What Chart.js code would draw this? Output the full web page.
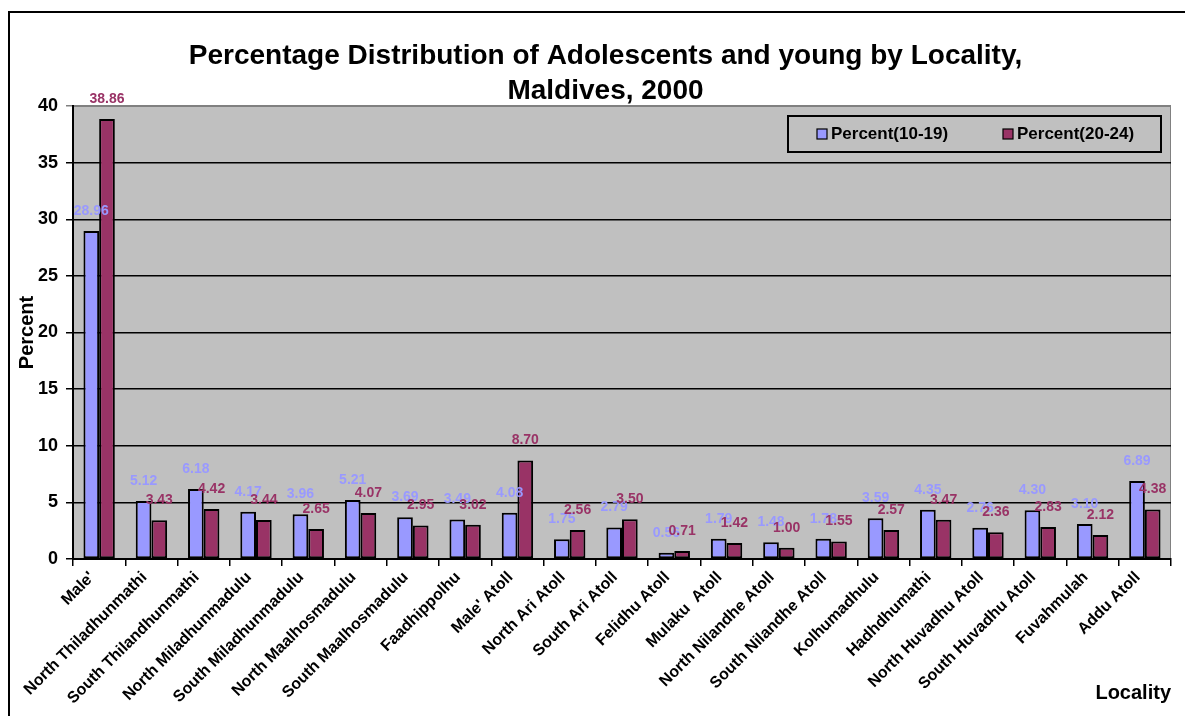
<!DOCTYPE html>
<html>
<head>
<meta charset="utf-8">
<script src="https://cdn.jsdelivr.net/npm/chart.js@4.4.0/dist/chart.umd.min.js"></script>
<style>
  html, body { margin: 0; padding: 0; background: #ffffff; }
  canvas { display: block; }
</style>
</head>
<body>
<canvas id="chart" width="1185" height="716"></canvas>
<script>
// Census 2000 locality breakdown
const titleLines = ['Percentage Distribution of Adolescents and young by Locality,', 'Maldives, 2000'];
const localities = [
  "Male'", 'North Thiladhunmathi', 'South Thilandhunmathi', 'North Miladhunmadulu',
  'South Miladhunmadulu', 'North Maalhosmadulu', 'South Maalhosmadulu', 'Faadhippolhu',
  "Male' Atoll", 'North Ari Atoll', 'South Ari Atoll', 'Felidhu Atoll', 'Mulaku  Atoll',
  'North Nilandhe Atoll', 'South Nilandhe Atoll', 'Kolhumadhulu', 'Hadhdhumathi',
  'North Huvadhu Atoll', 'South Huvadhu Atoll', 'Fuvahmulah', 'Addu Atoll'
];
const seriesNames = ['Percent(10-19)', 'Percent(20-24)'];
const percent10to19 = [28.96, 5.12, 6.18, 4.17, 3.96, 5.21, 3.69, 3.49, 4.08, 1.75, 2.79, 0.56, 1.79, 1.48, 1.78, 3.59, 4.35, 2.76, 4.30, 3.10, 6.89];
const percent20to24 = [38.86, 3.43, 4.42, 3.44, 2.65, 4.07, 2.95, 3.02, 8.70, 2.56, 3.50, 0.71, 1.42, 1.00, 1.55, 2.57, 3.47, 2.36, 2.83, 2.12, 4.38];
const yTickMin = 0;
const yTickMax = 40;
const yTickStep = 5;

const FONT = '"Liberation Sans", Arial, Helvetica, sans-serif';
const fillColors = ['#9999FF', '#993366'];
const plotGray = '#C0C0C0';

// Gray plot area, outer frame and the chart heading
const backdrop = {
  id: 'backdrop',
  beforeDraw(chart) {
    const { ctx, chartArea: a } = chart;
    ctx.save();
    ctx.fillStyle = '#ffffff';
    ctx.fillRect(0, 0, chart.width, chart.height);
    ctx.fillStyle = plotGray;
    ctx.fillRect(a.left, a.top, a.right - a.left, a.bottom - a.top);
    ctx.strokeStyle = '#808080';
    ctx.lineWidth = 1;
    ctx.strokeRect(a.left, a.top + 0.5, a.right - a.left - 0.5, a.bottom - a.top);
    // frame
    ctx.strokeStyle = '#000000';
    ctx.lineWidth = 2;
    ctx.beginPath();
    ctx.moveTo(9, chart.height);
    ctx.lineTo(9, 12);
    ctx.lineTo(chart.width, 12);
    ctx.stroke();
    // heading
    ctx.fillStyle = '#000000';
    ctx.font = 'bold 28px ' + FONT;
    ctx.textAlign = 'center';
    ctx.textBaseline = 'middle';
    const cx = chart.width / 2 + 13;
    titleLines.forEach((line, i) => ctx.fillText(line, cx, 56 + i * 35));
    ctx.restore();
  }
};

// Value labels above each bar
const valueLabels = {
  id: 'valueLabels',
  afterDatasetsDraw(chart) {
    const { ctx } = chart;
    ctx.save();
    ctx.font = 'bold 14px ' + FONT;
    ctx.textAlign = 'center';
    ctx.textBaseline = 'middle';
    chart.data.datasets.forEach((ds, i) => {
      const meta = chart.getDatasetMeta(i);
      ctx.fillStyle = fillColors[i];
      meta.data.forEach((bar, j) => {
        ctx.fillText(ds.data[j].toFixed(2), bar.x, bar.y - 20);
      });
    });
    ctx.restore();
  }
};

// Boxed legend inside the top-right of the plot
const boxedLegend = {
  id: 'boxedLegend',
  afterDraw(chart) {
    const { ctx, chartArea: a } = chart;
    const w = 373, h = 36;
    const x0 = a.right - 10 - w, y0 = a.top + 10;
    ctx.save();
    ctx.fillStyle = plotGray;
    ctx.fillRect(x0, y0, w, h);
    ctx.strokeStyle = '#000000';
    ctx.lineWidth = 2;
    ctx.strokeRect(x0, y0, w, h);
    ctx.font = 'bold 17px ' + FONT;
    ctx.textBaseline = 'middle';
    ctx.textAlign = 'left';
    const offsets = [29, 215];
    chart.data.datasets.forEach((ds, i) => {
      const sx = x0 + offsets[i];
      const cy = y0 + h / 2;
      ctx.fillStyle = ds.backgroundColor;
      ctx.fillRect(sx, cy - 5, 10, 10);
      ctx.lineWidth = 1.2;
      ctx.strokeStyle = '#000000';
      ctx.strokeRect(sx, cy - 5, 10, 10);
      ctx.fillStyle = '#000000';
      ctx.fillText(ds.label, sx + 14, cy);
    });
    ctx.restore();
  }
};

new Chart(document.getElementById('chart'), {
  type: 'bar',
  data: {
    labels: localities,
    datasets: [
      { label: seriesNames[0], data: percent10to19, backgroundColor: fillColors[0], borderColor: '#000000', borderWidth: 2, borderSkipped: false },
      { label: seriesNames[1], data: percent20to24, backgroundColor: fillColors[1], borderColor: '#000000', borderWidth: 2, borderSkipped: false }
    ]
  },
  options: {
    responsive: false,
    animation: false,
    devicePixelRatio: 1,
    layout: { padding: { top: 106, left: 10, right: 14, bottom: 10 } },
    datasets: { bar: { categoryPercentage: 0.6, barPercentage: 1.0 } },
    plugins: {
      legend: { display: false },
      title: { display: false },
      tooltip: { enabled: false }
    },
    scales: {
      x: {
        type: 'category',
        grid: { offset: true, drawOnChartArea: false, drawTicks: true, tickLength: 7, color: '#000000', lineWidth: 1.5 },
        border: { display: true, color: '#000000', width: 2 },
        ticks: {
          autoSkip: false, minRotation: 45, maxRotation: 45, padding: 2, labelOffset: -7,
          color: '#000000', font: { family: FONT, size: 16, weight: 'bold' }
        },
        title: {
          display: true, text: 'Locality', align: 'end', color: '#000000',
          font: { family: FONT, size: 20, weight: 'bold' }, padding: { top: 0, bottom: 1 }
        },
        afterFit(scale) { scale.height = 147; }
      },
      y: {
        min: yTickMin, max: yTickMax,
        ticks: {
          stepSize: yTickStep, padding: 8, color: '#000000',
          font: { family: FONT, size: 18, weight: 'bold' }
        },
        grid: {
          color: (c) => (c.tick && c.tick.value === yTickMax ? '#808080' : '#000000'),
          lineWidth: 1.5, tickLength: 7, drawTicks: true
        },
        border: { display: true, color: '#000000', width: 2 },
        title: {
          display: true, text: 'Percent', color: '#000000',
          font: { family: FONT, size: 20, weight: 'bold' }, padding: { top: 5, bottom: 0 }
        },
        afterFit(scale) { scale.width = 63; }
      }
    }
  },
  plugins: [backdrop, valueLabels, boxedLegend]
});
</script>
</body>
</html>
